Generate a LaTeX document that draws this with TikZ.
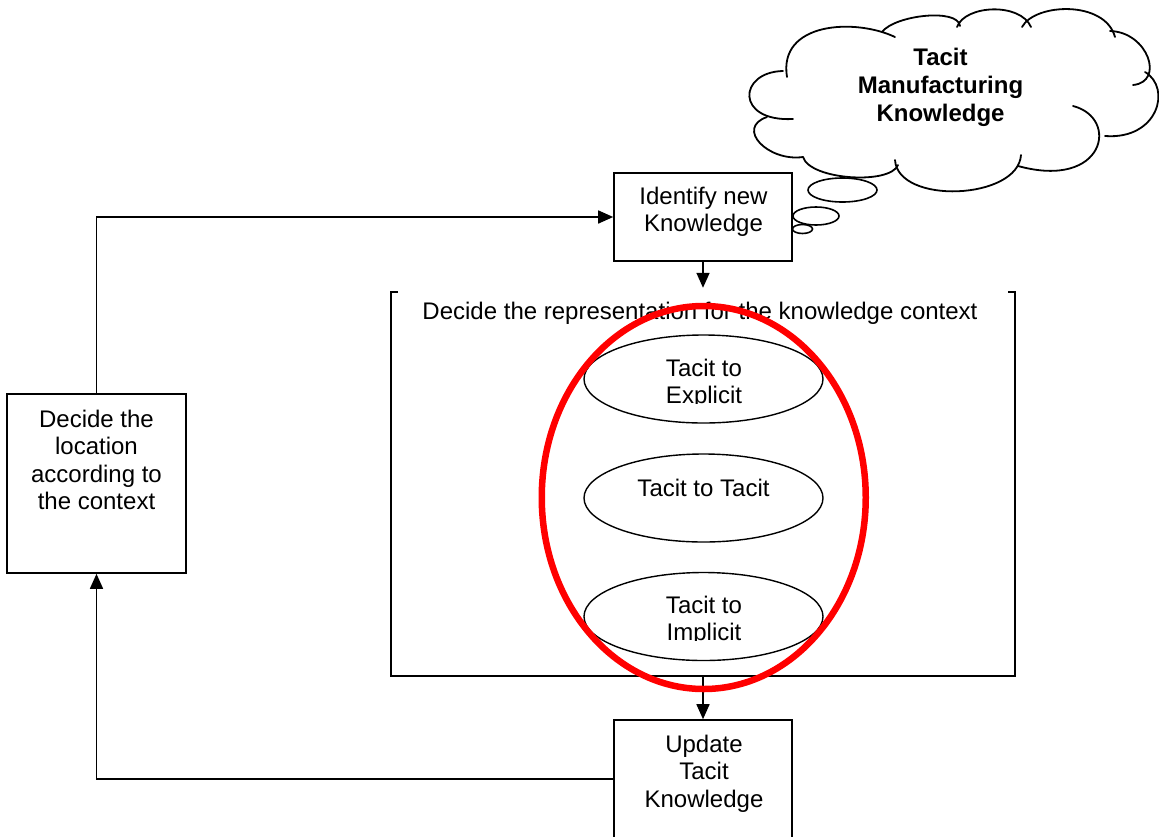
\documentclass[tikz,border=0pt]{standalone}
\usepackage{fontspec}
\setmainfont{Liberation Sans}
\usetikzlibrary{arrows.meta,shapes.geometric}
% text sizes used in the diagram
\newcommand\diagfont{\fontsize{24}{27.5}\selectfont}
\newcommand\diagboldfont{\bfseries\fontsize{24}{28}\selectfont}
% centred multi-line text whose base anchor is the first baseline
\newcommand\linesof[1]{\begin{tabular}[t]{@{}c@{}}#1\end{tabular}}
\tikzset{
  box/.style={draw, line width=1.6pt, inner sep=0pt, minimum width=178pt},
  txt/.style={anchor=base, inner sep=0pt, font=\diagfont},
  stage/.style={ellipse, draw, line width=1.4pt, inner sep=0pt,
                minimum width=239pt, minimum height=88pt},
  frame/.style={line width=1.6pt},
  flow/.style={line width=1.6pt, -{Triangle[length=15pt,width=13pt]}},
  bubble/.style={ellipse, draw, fill=white, line width=1.6pt, inner sep=0pt},
  cloudline/.style={line width=1.8pt, line cap=round},
  focus/.style={ellipse, draw=red, line width=6.5pt, inner sep=0pt,
                minimum width=324pt, minimum height=383pt}
}
\begin{document}
\begin{tikzpicture}[x=1pt,y=-1pt]
\useasboundingbox (0,0) rectangle (1159,836);

% process boxes
\node[box, minimum height=88pt] (identify) at (703,217) {};
\node[txt] (identifytext) at (703.5,204) {\linesof{Identify new\\Knowledge}};

\node[box, minimum width=179pt, minimum height=179pt] (location) at (96.5,483.5) {};
\node[txt] (locationtext) at (96.5,427) {\linesof{Decide the\\location\\according to\\the context}};

\node[box, minimum height=118pt] (update) at (703,779) {};
\node[txt] (updatetext) at (704,752) {\linesof{Update\\Tacit\\Knowledge}};

% representation frame (open at the top)
\node[inner sep=0pt, minimum width=624pt, minimum height=384pt] (rep) at (703,484) {};
\draw[frame] ([xshift=7pt]rep.north west) -- (rep.north west) -- (rep.south west)
  -- (rep.south east) -- (rep.north east) -- ([xshift=-7pt]rep.north east);
\node[txt] (reptext) at (700,319) {Decide the representation for the knowledge context};

% conversion modes
\node[stage] (explicit) at (703.5,379) {};
\node[stage] (tacit) at (703.5,498) {};
\node[stage] (implicit) at (703.5,616.5) {};
\node[txt] (tacittext) at (703.5,496) {Tacit to Tacit};
\begin{scope}
  \clip (580,330) rectangle (830,403.5);
  \node[txt] (explicittext) at (704,376) {\linesof{Tacit to\\Explicit}};
\end{scope}
\begin{scope}
  \clip (580,570) rectangle (830,640.3);
  \node[txt] (implicittext) at (704,613) {\linesof{Tacit to\\Implicit}};
\end{scope}

% flow
\draw[flow, shorten >=4pt] (identify.south) -- (rep.north);
\draw[flow] (rep.south) -- (update.north);
\draw[flow] (update.west) -| (location.south);
\draw[flow] (location.north) |- (identify.west);

% thought cloud
\draw[cloudline] (783,71) .. controls (738,72) and (735,122) .. (793,119);
\draw[cloudline] (787,77) .. controls (778,22) and (855,18) .. (895,37);
\draw[cloudline] (882,32) .. controls (895,15) and (958,8) .. (960,26);
\draw[cloudline] (957,27) .. controls (965,5) and (1020,2) .. (1031,27);
\draw[cloudline] (1022,27) .. controls (1035,3) and (1105,0) .. (1115,37);
\draw[cloudline] (1110,31) .. controls (1148,32) and (1165,82) .. (1133,85);
\draw[cloudline] (1145,72) .. controls (1172,88) and (1158,140) .. (1105,136);
\draw[cloudline] (1073,106) .. controls (1120,118) and (1105,190) .. (1018,166);
\draw[cloudline] (1021,155) .. controls (1018,200) and (898,205) .. (895,160);
\draw[cloudline] (898,165) .. controls (890,185) and (810,180) .. (803,157);
\draw[cloudline] (803,157) .. controls (768,162) and (735,128) .. (767,117);
\node[txt, font=\diagboldfont] (cloudtext) at (940.5,65) {\linesof{Tacit\\Manufacturing\\Knowledge}};

\node[bubble, minimum width=20pt, minimum height=9pt] (bubblesmall) at (802.5,229) {};
\node[bubble, minimum width=46pt, minimum height=18pt] (bubblemid) at (816,216) {};
\node[bubble, minimum width=69pt, minimum height=24pt] (bubblebig) at (842.5,190) {};

% highlight ring
\node[focus] (ring) at (703.75,497.5) {};
\end{tikzpicture}
\end{document}
